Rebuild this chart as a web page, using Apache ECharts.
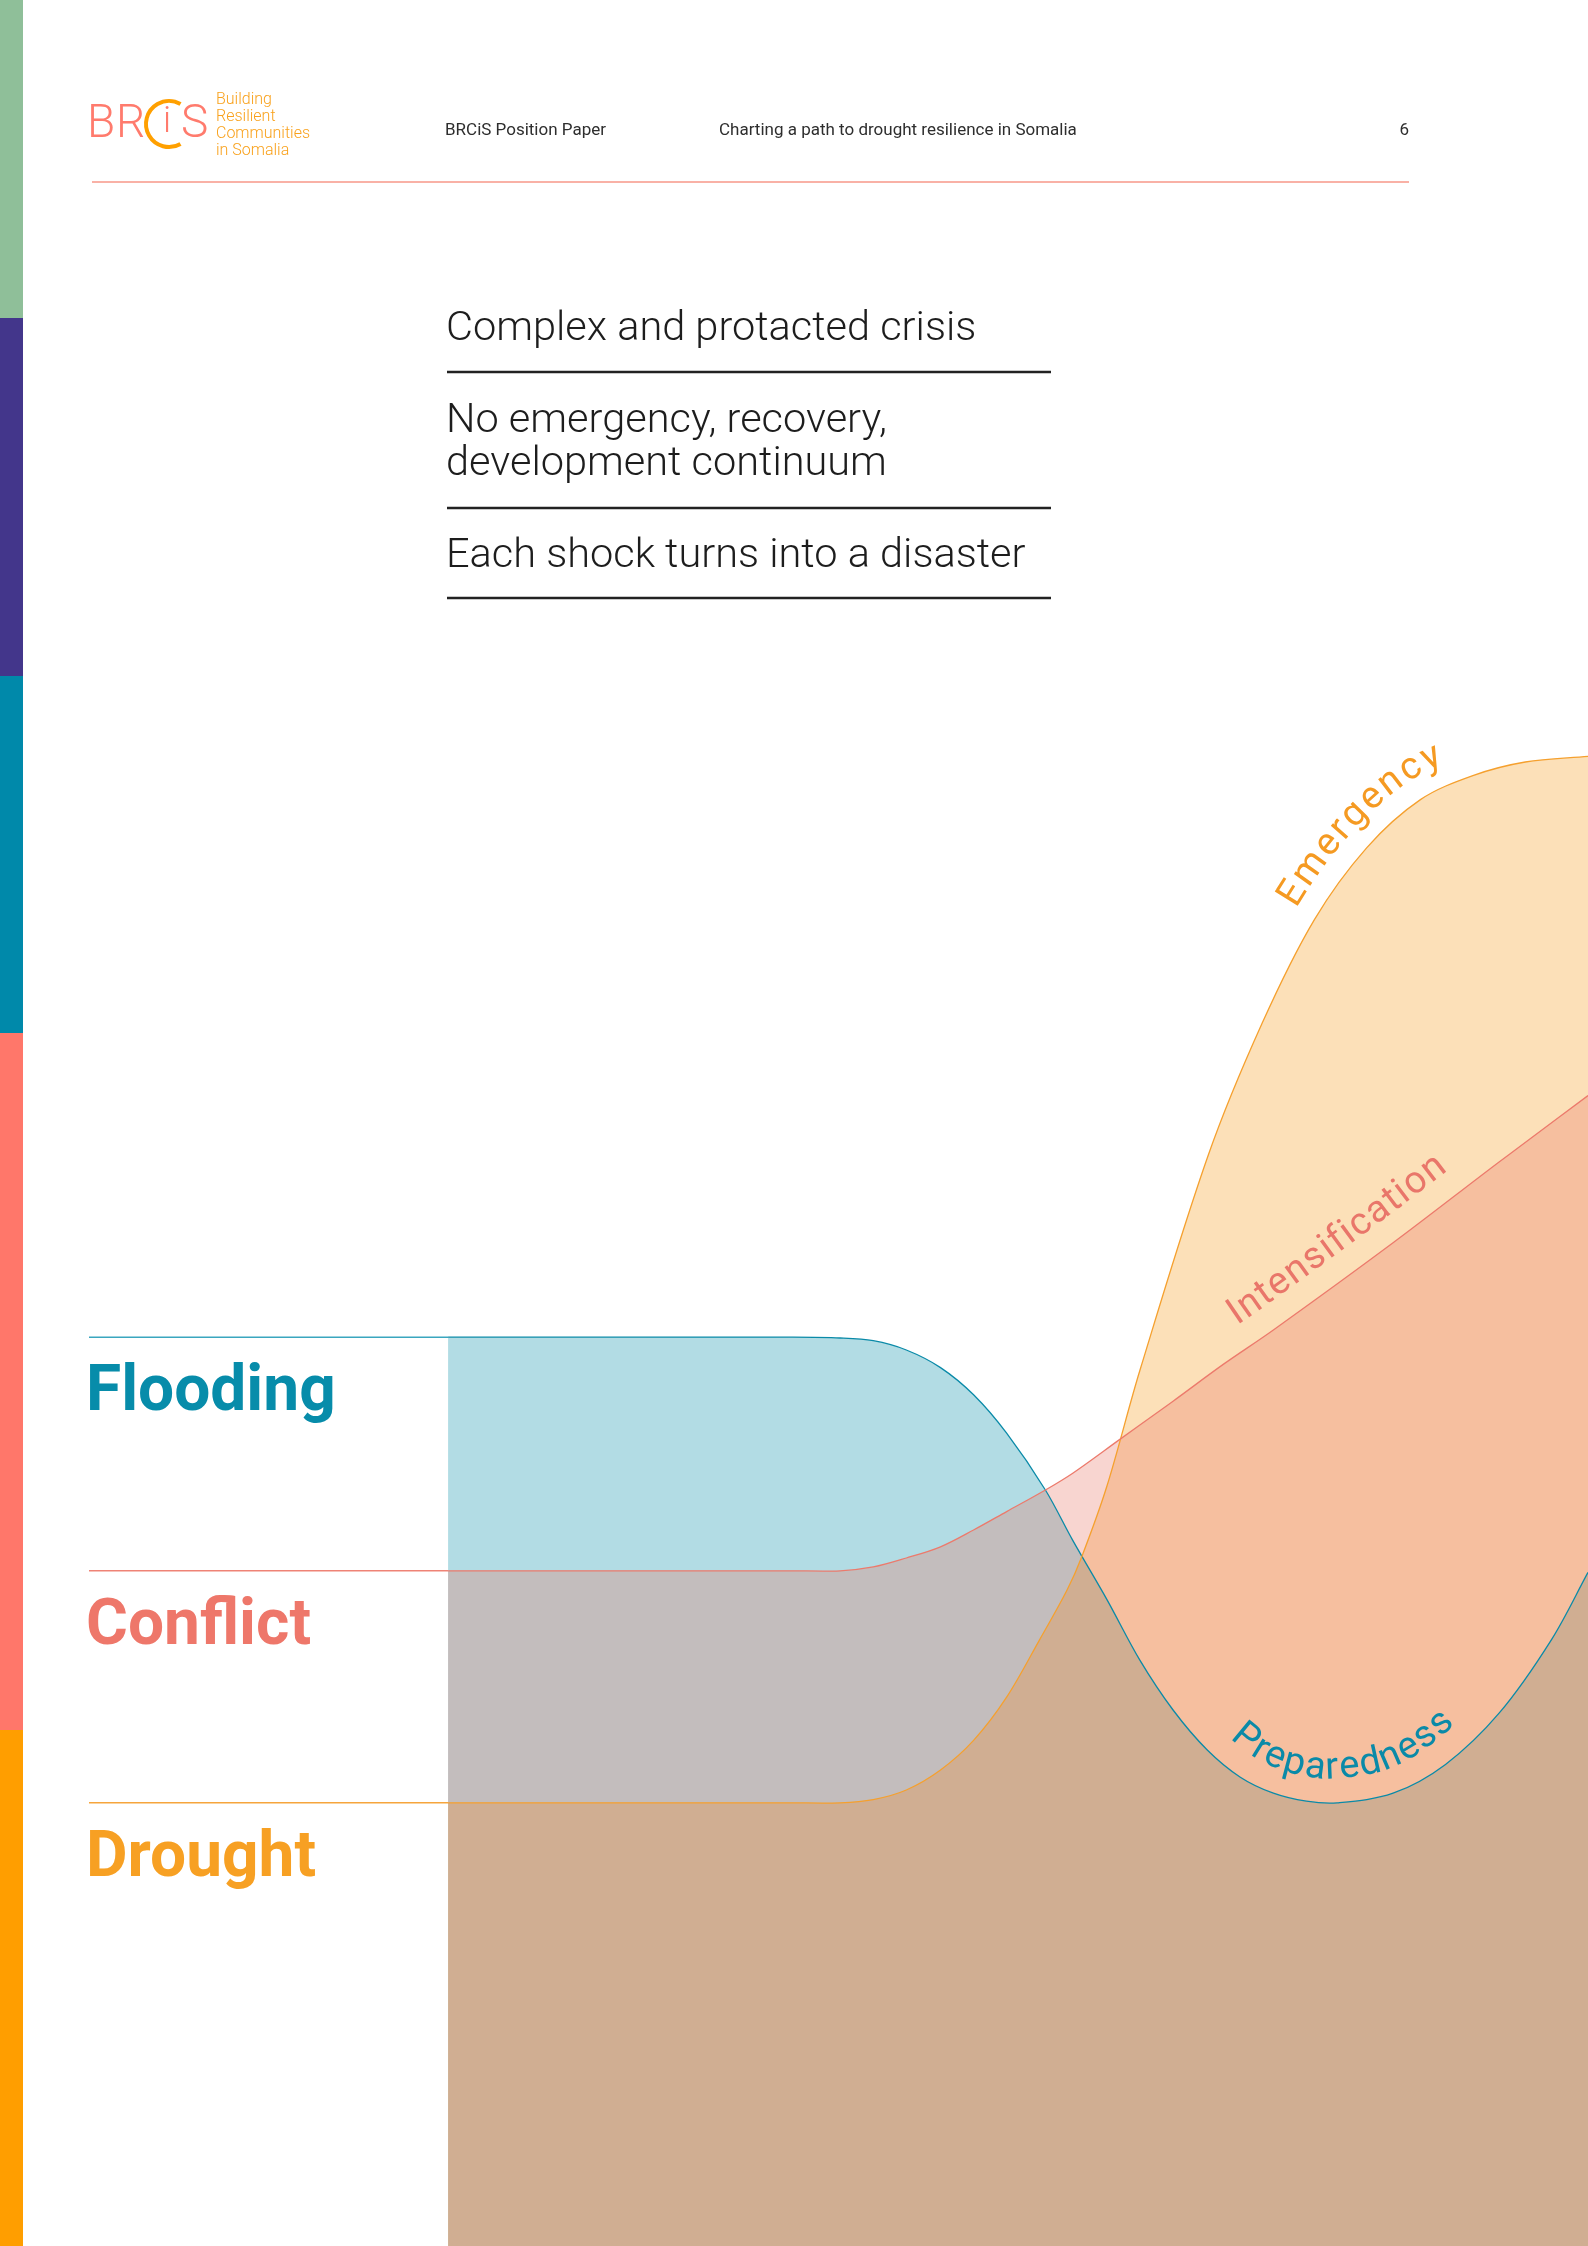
<!DOCTYPE html>
<html>
<head>
<meta charset="utf-8">
<script src="https://cdn.jsdelivr.net/npm/echarts@6/dist/echarts.min.js"></script>
<style>
html,body{margin:0;padding:0;background:#fff;}
#chart{width:1588px;height:2246px;}
</style>
</head>
<body>
<div id="chart"></div>
<script>
// ---------------- DATA ----------------
const hazards = ['Flooding', 'Conflict', 'Drought'];
const phases = ['Preparedness', 'Intensification', 'Emergency'];
const statements = ['Complex and protacted crisis', 'No emergency, recovery,', 'development continuum', 'Each shock turns into a disaster'];
const headerTexts = ['BRCiS Position Paper', 'Charting a path to drought resilience in Somalia', '6'];
const logoTagline = ['Building', 'Resilient', 'Communities', 'in Somalia'];

// [stage, level]
const floodingCurve = [[0,56.8],[17,56.8],[30,56.8],[34.4,56.75],[37.3,56.58],[40.2,56.0],[43.2,54.9],[46.1,53.2],[49.0,50.8],[52.4,47.25],[54.8,44.1],[57.8,40.4],[60.7,36.6],[63.6,33.5],[66.6,31.0],[69.5,29.3],[72.4,28.3],[75.3,27.8],[78.0,27.7],[82.9,28.3],[87.5,30.1],[92.2,33.3],[96.8,37.9],[100,42.1]];
const conflictCurve = [[0,42.2],[17,42.2],[30,42.2],[34.4,42.2],[37.3,42.44],[40.2,43.0],[43.2,43.7],[46.1,44.75],[49.0,45.9],[52.4,47.25],[54.8,48.3],[58.9,50.4],[63.6,52.8],[68.0,55.1],[72.4,57.25],[82.9,62.7],[92.2,67.75],[100,71.9]];
const droughtCurve = [[0,27.7],[17,27.7],[30,27.7],[34.4,27.7],[37.3,27.9],[40.2,28.5],[43.2,29.75],[46.1,31.6],[49.0,34.3],[51.9,37.9],[54.3,41.0],[55.6,43.1],[57.8,47.5],[60.7,54.75],[66.7,68.2],[71.4,76.4],[76.0,82.9],[80.6,87.4],[85.3,90.4],[89.9,91.9],[94.5,92.75],[100,93.1]];

// ---------------- STYLE ----------------
const X_MIN = -31.5;
const COL = {
  teal: '#0a8aa8', tealFill: 'rgba(0,138,166,0.30)', tealStub: '#3aa6bf', tealText: '#078caa',
  coral: '#ec7a6c', coralFill: 'rgba(232,119,104,0.31)', coralStub: '#ef8376', coralText: '#ee776a',
  orange: '#f5a02e', orangeFill: 'rgba(245,152,20,0.30)', orangeStub: '#f6a53c', orangeText: '#f7a023'
};

// smooth cubic segments through pixel points (chord-length handles)
function bezierSegs(p) {
  const n = p.length, d = [];
  for (let i = 0; i < n; i++) {
    const a = p[Math.max(i-1, 0)], b = p[Math.min(i+1, n-1)];
    let dx = b[0]-a[0], dy = b[1]-a[1]; const l = Math.hypot(dx, dy) || 1;
    d.push([dx/l, dy/l]);
  }
  const segs = [];
  for (let i = 0; i < n-1; i++) {
    const L = Math.hypot(p[i+1][0]-p[i][0], p[i+1][1]-p[i][1]) / 3;
    segs.push([p[i], [p[i][0]+d[i][0]*L, p[i][1]+d[i][1]*L], [p[i+1][0]-d[i+1][0]*L, p[i+1][1]-d[i+1][1]*L], p[i+1]]);
  }
  return segs;
}
function segsToPath(segs) {
  let s = 'M' + segs[0][0][0] + ' ' + segs[0][0][1];
  segs.forEach(g => { s += ' C' + g[1][0] + ' ' + g[1][1] + ' ' + g[2][0] + ' ' + g[2][1] + ' ' + g[3][0] + ' ' + g[3][1]; });
  return s;
}
function sampleSegs(segs, steps) {
  const out = [];
  segs.forEach(g => {
    for (let k = 0; k < steps; k++) {
      const t = k / steps, u = 1 - t;
      const b0 = u*u*u, b1 = 3*u*u*t, b2 = 3*u*t*t, b3 = t*t*t;
      out.push([b0*g[0][0]+b1*g[1][0]+b2*g[2][0]+b3*g[3][0], b0*g[0][1]+b1*g[1][1]+b2*g[2][1]+b3*g[3][1]]);
    }
  });
  const last = segs[segs.length-1][3];
  out.push([last[0], last[1]]);
  return out;
}

function curveSeries(name, curve, line, fill) {
  return {
    name, type: 'custom', coordinateSystem: 'cartesian2d', data: curve, silent: true,
    encode: {x: 0, y: 1},
    renderItem: function (params, api) {
      if (params.dataIndex !== 0) return null;
      const pts = curve.map(d => api.coord(d));
      const segs = bezierSegs(pts);
      const lineD = segsToPath(segs);
      if (fill) {
        const bottom = api.coord([curve[0][0], 0])[1];
        const last = pts[pts.length-1], first = pts[0];
        const fillD = lineD + ' L' + last[0] + ' ' + bottom + ' L' + first[0] + ' ' + bottom + ' Z';
        return {type: 'path', shape: {pathData: fillD}, style: {fill: fill, stroke: 'none'}};
      }
      return {type: 'path', shape: {pathData: lineD}, style: {fill: 'none', stroke: line, lineWidth: 1.3}};
    }
  };
}
function stubSeries(curve, color) {
  return {
    type: 'line', data: [[X_MIN, curve[0][1]], [curve[0][0], curve[0][1]]],
    symbol: 'none', silent: true, lineStyle: {color, width: 1.5}, emphasis: {disabled: true}
  };
}

const chart = echarts.init(document.getElementById('chart'), null, {renderer: 'canvas'});
chart.setOption({
  animation: false,
  backgroundColor: '#ffffff',
  grid: {left: 89, right: 0, top: 646, bottom: 0, containLabel: false},
  xAxis: {type: 'value', min: X_MIN, max: 100, show: false},
  yAxis: {type: 'value', min: 0, max: 100, show: false},
  series: [
    curveSeries(hazards[0], floodingCurve, null, COL.tealFill),
    curveSeries(hazards[2], droughtCurve, null, COL.orangeFill),
    curveSeries(hazards[1], conflictCurve, null, COL.coralFill),
    curveSeries(phases[0], floodingCurve, COL.teal, null),
    curveSeries(phases[2], droughtCurve, COL.orange, null),
    curveSeries(phases[1], conflictCurve, COL.coral, null),
    stubSeries(floodingCurve, COL.tealStub),
    stubSeries(conflictCurve, COL.coralStub),
    stubSeries(droughtCurve, COL.orangeStub)
  ]
});

// ---------------- GRAPHICS ----------------
const g = [];
function txt(text, x, baseline, font, fill, align, fs) {
  g.push({type: 'text', x: x, y: baseline - 0.342 * fs, silent: true, z: 50,
    style: {text, font, fill, textAlign: align || 'left', align: align || 'left',
            textVerticalAlign: 'middle', verticalAlign: 'middle'}});
}
function ln(x1, y1, x2, y2, stroke, w) {
  g.push({type: 'line', silent: true, z: 50, shape: {x1, y1, x2, y2}, style: {stroke, lineWidth: w}});
}

// side colour bar
const barStops = [0, 318, 676, 1033, 1730, 2246];
const barColors = ['#8fbf99', '#43368b', '#0089aa', '#ff776a', '#ff9e00'];
for (let i = 0; i < barColors.length; i++) {
  g.push({type: 'rect', silent: true, z: 50, shape: {x: 0, y: barStops[i], width: 23, height: barStops[i+1] - barStops[i]}, style: {fill: barColors[i]}});
}

// logo
txt('B', 87, 141, '300 46px Roboto', '#ff7b6d', 'left', 46);
txt('R', 116, 141, '300 46px Roboto', '#ff7b6d', 'left', 46);
g.push({type: 'arc', silent: true, z: 50, shape: {cx: 169, cy: 124, r: 23, startAngle: Math.PI/3, endAngle: 5*Math.PI/3, clockwise: true},
  style: {stroke: '#ffa000', lineWidth: 4, fill: null}});
txt('i', 167, 135, '300 36px Roboto', '#ff7b6d', 'center', 36);
txt('S', 181, 141, '300 46px Roboto', '#ff7b6d', 'left', 46);
logoTagline.forEach((t, i) => txt(t, 216, 105 + i * 17, '300 16px Roboto', '#f9a11b', 'left', 16));

// header
txt(headerTexts[0], 445, 137, '400 17px Roboto', '#2e2e2e', 'left', 17);
txt(headerTexts[1], 719, 137, '400 17px Roboto', '#2e2e2e', 'left', 17);
txt(headerTexts[2], 1409, 137, '400 17px Roboto', '#2e2e2e', 'right', 17);
ln(92, 182, 1409, 182, '#f9b1a6', 2);

// statements block
const stFs = 41.5, stFont = '300 41.5px Roboto';
txt(statements[0], 446, 344, stFont, '#1d1d1d', 'left', stFs);
ln(447, 372, 1051, 372, '#222', 2.5);
txt(statements[1], 446, 436, stFont, '#1d1d1d', 'left', stFs);
txt(statements[2], 446, 479, stFont, '#1d1d1d', 'left', stFs);
ln(447, 508, 1051, 508, '#222', 2.5);
txt(statements[3], 446, 571, stFont, '#1d1d1d', 'left', stFs);
ln(447, 598, 1051, 598, '#222', 2.5);

// hazard labels (positioned from the curve levels)
const hazardCurves = [floodingCurve, conflictCurve, droughtCurve];
const hazardColors = [COL.tealText, COL.coralText, COL.orangeText];
hazards.forEach((h, i) => {
  const py = chart.convertToPixel({gridIndex: 0}, [X_MIN, hazardCurves[i][0][1]])[1];
  txt(h, 86, py + 79, '700 64px Roboto', hazardColors[i], 'left', 64);
});

// ---- curved phase labels along the curves ----
const measureCtx = document.createElement('canvas').getContext('2d');
function curveText(text, curve, startStage, offset, color, fs, spacing) {
  const px = curve.map(d => chart.convertToPixel({gridIndex: 0}, d));
  const dense = sampleSegs(bezierSegs(px), 20);
  const startPx = chart.convertToPixel({gridIndex: 0}, [startStage, 0])[0];
  const off = dense.map((p, i) => {
    const a = dense[Math.max(i-1, 0)], b = dense[Math.min(i+1, dense.length-1)];
    let tx = b[0]-a[0], ty = b[1]-a[1]; const l = Math.hypot(tx, ty) || 1; tx /= l; ty /= l;
    return [p[0] + ty * offset, p[1] - tx * offset, p[0]];
  });
  const L = [0];
  for (let i = 1; i < off.length; i++) L.push(L[i-1] + Math.hypot(off[i][0]-off[i-1][0], off[i][1]-off[i-1][1]));
  function at(s) {
    let i = 1; while (i < L.length - 1 && L[i] < s) i++;
    const r = (s - L[i-1]) / ((L[i] - L[i-1]) || 1);
    return [off[i-1][0] + (off[i][0]-off[i-1][0]) * r, off[i-1][1] + (off[i][1]-off[i-1][1]) * r];
  }
  let k = 0; while (k < off.length - 1 && off[k][2] < startPx) k++;
  let s = L[k];
  const font = '400 ' + fs + 'px Roboto';
  measureCtx.font = font;
  for (const ch of text) {
    const w = measureCtx.measureText(ch).width;
    const sc = s + w / 2;
    const p = at(sc), a = at(sc - 6), b = at(sc + 6);
    let tx = b[0]-a[0], ty = b[1]-a[1]; const l = Math.hypot(tx, ty) || 1; tx /= l; ty /= l;
    const nx = ty, ny = -tx;
    g.push({type: 'text', silent: true, z: 60,
      x: p[0] + nx * 0.342 * fs, y: p[1] + ny * 0.342 * fs, rotation: -Math.atan2(ty, tx),
      style: {text: ch, font, fill: color, textAlign: 'center', align: 'center', textVerticalAlign: 'middle', verticalAlign: 'middle'}});
    s += w + spacing;
  }
}
curveText(phases[2], droughtCurve, 75.9, 18, '#f59a22', 38, 2.5);
curveText(phases[1], conflictCurve, 70.3, 21, '#e9766a', 38, 1.5);
curveText(phases[0], floodingCurve, 67.1, 21, '#0a8aa8', 38, 2);

chart.setOption({graphic: {elements: g}});
</script>
</body>
</html>
